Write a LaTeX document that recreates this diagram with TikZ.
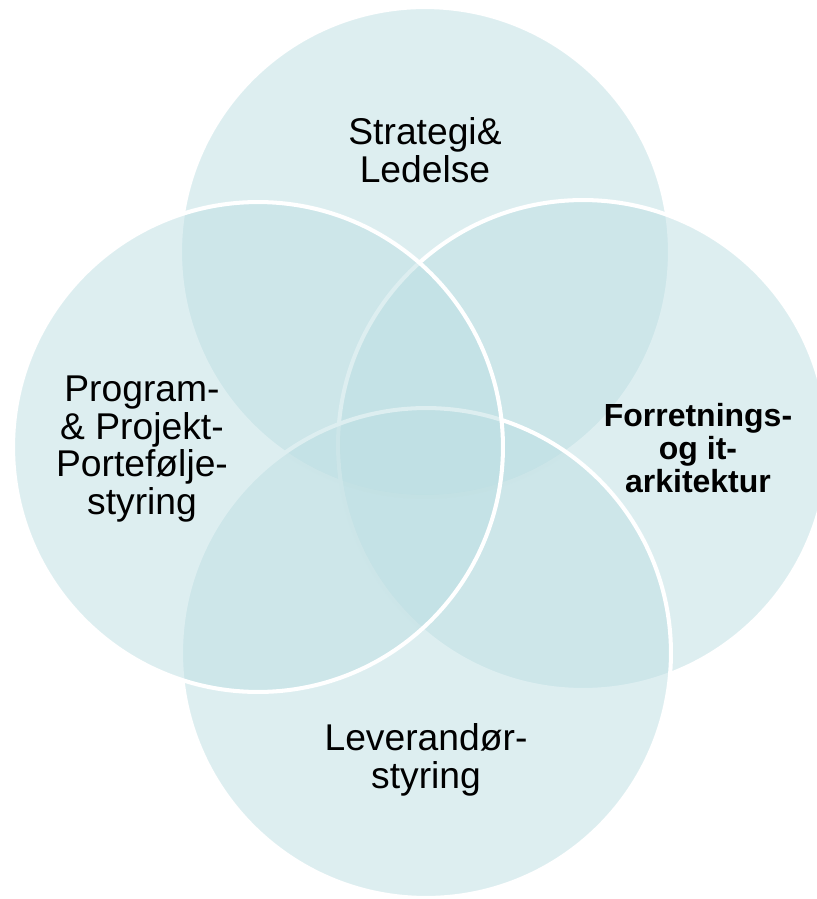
\documentclass[tikz,border=0pt]{standalone}
\usepackage{fontspec}
\setmainfont{Liberation Sans}
\definecolor{vennfill}{RGB}{188,222,226}
\begin{document}
\begin{tikzpicture}[
        x = .02cm,
        y = -.02cm,
        area/.style = {circle, minimum size = 9.8cm, inner sep = 0pt,
            fill = vennfill, fill opacity = .5, draw = white, line width = 2.3pt},
        areatext/.style = {align = center, inner sep = 0pt,
            font = \fontsize{21.2}{21.4}\selectfont}
    ]
        \clip (0,0) rectangle (817,899);
        \node[area] (strategi) at (425,252) {};
        \node[area] (arkitektur) at (583,445) {};
        \node[area] (leverandor) at (426,653) {};
        \node[area] (portefolje) at (258,447) {};
        \node[areatext] (strategitxt) at (425,150) {Strategi\&\\Ledelse};
        \node[areatext] (portefoljetxt) at (142,449) {Program-\\\& Projekt-\\Portefølje-\\styring};
        \node[areatext, font = \bfseries\fontsize{18.2}{18.8}\selectfont]
            (arkitekturtxt) at (698,448) {Forretnings-\\og it-\\arkitektur};
        \node[areatext] (leverandortxt) at (426,760) {Leverandør-\\styring};
\end{tikzpicture}
\end{document}
